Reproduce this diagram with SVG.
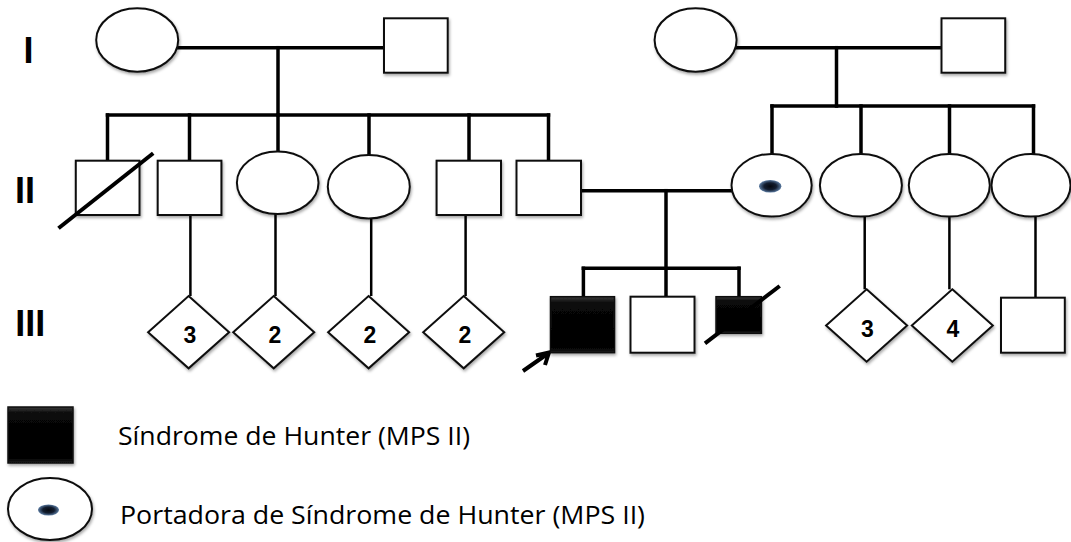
<svg xmlns="http://www.w3.org/2000/svg" width="1071" height="542" viewBox="0 0 1071 542">
  <defs>
    <filter id="sh" x="-20%" y="-20%" width="140%" height="150%">
      <feDropShadow dx="1" dy="2" stdDeviation="1.4" flood-color="#000" flood-opacity="0.35"/>
    </filter>
    <radialGradient id="dot" cx="50%" cy="50%" r="50%">
      <stop offset="0" stop-color="#05080f"/>
      <stop offset="0.55" stop-color="#121d30"/>
      <stop offset="1" stop-color="#5a7aa0"/>
    </radialGradient>
    <linearGradient id="bev" x1="0" y1="0" x2="0" y2="1">
      <stop offset="0" stop-color="#3a3a3a"/>
      <stop offset="0.12" stop-color="#080808"/>
      <stop offset="0.9" stop-color="#000"/>
      <stop offset="1" stop-color="#1a1a1a"/>
    </linearGradient>
  </defs>
  <style>
    .n { fill: #fff; stroke: #111; stroke-width: 2; filter: url(#sh); }
    .a { fill: url(#bev); stroke: #111; stroke-width: 1.5; filter: url(#sh); }
    .c { stroke: #000; stroke-width: 3.5; fill: none; stroke-linecap: square; }
    .d { stroke: #000; stroke-width: 2.5; fill: none; }
    .s { stroke: #000; stroke-width: 4; fill: none; }
    .gen { font-family: "Liberation Sans", Arial, sans-serif; font-weight: bold; font-size: 36px; fill: #000; text-anchor: middle; }
    .num { font-family: "Liberation Sans", Arial, sans-serif; font-weight: bold; font-size: 23px; fill: #000; text-anchor: middle; }
    .leg { font-family: "Open Sans", "Liberation Sans", sans-serif; font-size: 26px; fill: #000; }
    .dot { fill: url(#dot); }
  </style>
  <rect width="1071" height="542" fill="#fff"/>

  <!-- generation labels -->
  <text class="gen" x="28.5" y="63.3">I</text>
  <text class="gen" x="25" y="203.3">II</text>
  <text class="gen" x="30.3" y="336">III</text>

  <!-- connectors -->
  <g id="connectors">
    <line class="c" x1="178" y1="47.7" x2="384" y2="47.7"/>
    <line class="c" x1="278" y1="47.7" x2="278" y2="115"/>
    <line class="c" x1="107.5" y1="115" x2="548.5" y2="115"/>
    <line class="c" x1="107.5" y1="115" x2="107.5" y2="160.7"/>
    <line class="c" x1="189.5" y1="115" x2="189.5" y2="160.7"/>
    <line class="c" x1="278" y1="115" x2="278" y2="151.7"/>
    <line class="c" x1="369" y1="115" x2="369" y2="155"/>
    <line class="c" x1="469" y1="115" x2="469" y2="160.7"/>
    <line class="c" x1="548.5" y1="115" x2="548.5" y2="160.7"/>

    <line class="c" x1="736.6" y1="47.7" x2="941.5" y2="47.7"/>
    <line class="c" x1="836.5" y1="47.7" x2="836.5" y2="106"/>
    <line class="c" x1="772" y1="106" x2="1033.5" y2="106"/>
    <line class="c" x1="772" y1="106" x2="772" y2="154"/>
    <line class="c" x1="861" y1="106" x2="861" y2="154"/>
    <line class="c" x1="949.5" y1="106" x2="949.5" y2="154"/>
    <line class="c" x1="1033.5" y1="106" x2="1033.5" y2="154"/>

    <line class="c" x1="581" y1="190.7" x2="731.5" y2="190.7"/>
    <line class="c" x1="666" y1="190.7" x2="666" y2="296.7"/>
    <line class="c" x1="583.4" y1="268.3" x2="739" y2="268.3"/>
    <line class="c" x1="583.4" y1="268.3" x2="583.4" y2="296.7"/>
    <line class="c" x1="739" y1="268.3" x2="739" y2="296.7"/>

    <line class="d" x1="190.4" y1="215" x2="190.4" y2="296"/>
    <line class="d" x1="275.5" y1="214" x2="275.5" y2="296"/>
    <line class="d" x1="371.2" y1="218.3" x2="371.2" y2="296"/>
    <line class="d" x1="465.6" y1="215" x2="465.6" y2="296"/>
    <line class="d" x1="864.7" y1="216.7" x2="864.7" y2="289.3"/>
    <line class="d" x1="949.4" y1="216.7" x2="949.4" y2="289.3"/>
    <line class="d" x1="1035.5" y1="216.7" x2="1035.5" y2="297.7"/>

    <path class="s" d="M523,371 L548,353.5 M536,355.5 L549,352.5 L545,365" stroke-linejoin="miter"/>
  </g>

  <!-- Generation I -->
  <g id="I-1"><ellipse class="n" cx="137.2" cy="40" rx="41" ry="31.7"/></g>
  <g id="I-2"><rect class="n" x="384" y="18.3" width="63.7" height="54.4"/></g>
  <g id="I-3"><ellipse class="n" cx="695.6" cy="40" rx="41" ry="31.7"/></g>
  <g id="I-4"><rect class="n" x="941.5" y="18.3" width="63.7" height="54.4"/></g>

  <!-- Generation II -->
  <g id="II-1">
    <rect class="n" x="75.8" y="160.7" width="63.7" height="54.3"/>
    <line class="s" x1="58.5" y1="228.3" x2="153.2" y2="153.3"/>
  </g>
  <g id="II-2"><rect class="n" x="157.7" y="160.7" width="63.7" height="54.3"/></g>
  <g id="II-3"><ellipse class="n" cx="277.7" cy="182.8" rx="40.8" ry="31.2"/></g>
  <g id="II-4"><ellipse class="n" cx="368.8" cy="186.7" rx="41" ry="31.7"/></g>
  <g id="II-5"><rect class="n" x="436.6" y="160.7" width="64.4" height="54.3"/></g>
  <g id="II-6"><rect class="n" x="516.5" y="160.7" width="64.5" height="54.3"/></g>
  <g id="II-7">
    <ellipse class="n" cx="771.6" cy="185.3" rx="40.1" ry="31.3"/>
    <ellipse class="dot" cx="770.2" cy="186.3" rx="11.2" ry="6.3"/>
  </g>
  <g id="II-8"><ellipse class="n" cx="860.9" cy="185.3" rx="41" ry="31.3"/></g>
  <g id="II-9"><ellipse class="n" cx="949.3" cy="185.3" rx="40.5" ry="31.3"/></g>
  <g id="II-10"><ellipse class="n" cx="1031" cy="185.3" rx="39.5" ry="31.3"/></g>

  <!-- Generation III -->
  <g id="III-a"><polygon class="n" points="188.6,296 229.1,332.2 188.6,368.3 148.1,332.2"/><text class="num" x="190" y="343">3</text></g>
  <g id="III-b"><polygon class="n" points="273.7,296 314.2,332.2 273.7,368.3 233.2,332.2"/><text class="num" x="275" y="343">2</text></g>
  <g id="III-c"><polygon class="n" points="368.6,296 409.1,332.2 368.6,368.3 328.1,332.2"/><text class="num" x="370" y="343">2</text></g>
  <g id="III-d"><polygon class="n" points="463.7,296 504.2,332.2 463.7,368.3 423.2,332.2"/><text class="num" x="465" y="343">2</text></g>
  <g id="III-1"><rect class="a" x="550.5" y="296.7" width="64" height="56"/></g>
  <g id="III-2"><rect class="n" x="630.5" y="296.7" width="64" height="56"/></g>
  <g id="III-3">
    <rect class="a" x="716" y="296.7" width="45.4" height="36.6"/>
    <line class="s" x1="705" y1="343.3" x2="779.7" y2="286"/>
  </g>
  <g id="III-e"><polygon class="n" points="866.6,289.3 907.1,325.5 866.6,361.7 826.1,325.5"/><text class="num" x="867.5" y="337">3</text></g>
  <g id="III-f"><polygon class="n" points="952.3,289.3 992.8,325.5 952.3,361.7 911.8,325.5"/><text class="num" x="953" y="337">4</text></g>
  <g id="III-g"><rect class="n" x="1001" y="297.7" width="63.8" height="55"/></g>

  <!-- Legend -->
  <g id="legend-affected">
    <rect class="a" x="8" y="407" width="65" height="56"/>
    <text class="leg" x="118" y="445" textLength="352" lengthAdjust="spacingAndGlyphs">Síndrome de Hunter (MPS II)</text>
  </g>
  <g id="legend-carrier">
    <ellipse class="n" cx="50" cy="509" rx="42" ry="31"/>
    <ellipse class="dot" cx="48.5" cy="510" rx="10.5" ry="5.5"/>
    <text class="leg" x="120" y="524" textLength="525" lengthAdjust="spacingAndGlyphs">Portadora de Síndrome de Hunter (MPS II)</text>
  </g>
</svg>
